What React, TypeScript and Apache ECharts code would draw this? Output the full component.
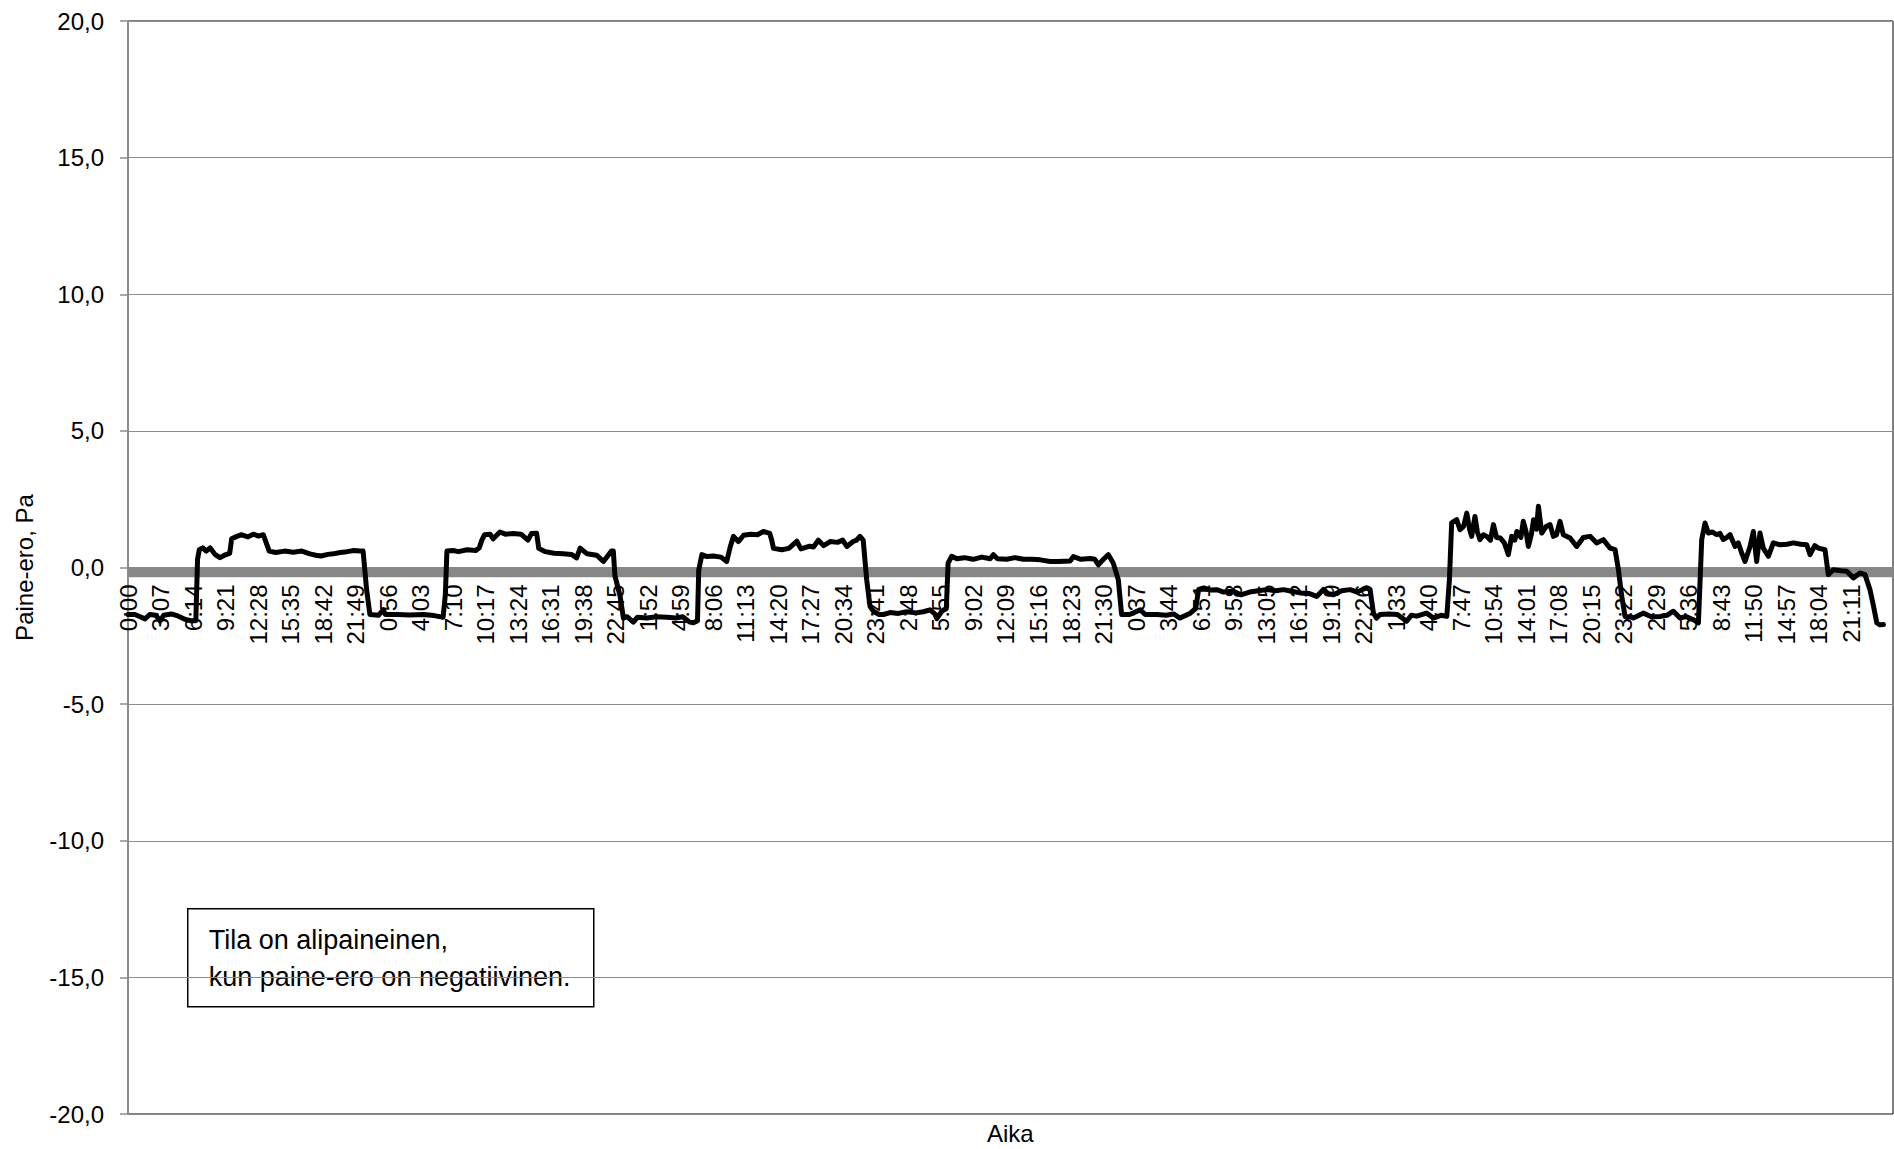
import React, { useEffect, useRef } from "react";
import * as echarts from "echarts";

// [minute from start of measurement, pressure difference Pa]
const day1: [number, number][] = [
  [0, -1.72], [40, -1.72], [70, -1.8], [98, -1.88], [125, -1.72], [160, -1.75], [184, -1.95], [205, -1.75],
  [250, -1.7], [290, -1.78], [330, -1.9], [360, -1.95], [390, -1.95], [400, 0.3], [410, 0.65], [430, 0.72],
  [450, 0.6], [472, 0.72], [500, 0.48], [529, 0.36], [555, 0.45], [585, 0.52], [596, 1.05], [620, 1.12],
  [650, 1.2], [690, 1.12], [720, 1.22], [750, 1.15], [778, 1.2], [795, 0.9], [812, 0.6], [850, 0.55],
  [900, 0.6], [950, 0.56], [1000, 0.6], [1046, 0.5], [1080, 0.45], [1110, 0.42], [1150, 0.48], [1180, 0.5],
  [1220, 0.55], [1260, 0.58], [1300, 0.62], [1334, 0.6], [1352, 0.6], [1372, -0.8], [1391, -1.72],
];
const day2: [number, number][] = [
  [1440, -1.75], [1468, -1.55], [1480, -1.72], [1550, -1.72], [1620, -1.74], [1700, -1.72], [1760, -1.76],
  [1812, -1.82], [1825, -1.0], [1834, 0.6], [1870, 0.62], [1900, 0.58], [1950, 0.65], [2000, 0.62],
  [2020, 0.72], [2035, 1.0], [2050, 1.2], [2082, 1.22], [2100, 1.05], [2139, 1.3], [2170, 1.22], [2216, 1.24],
  [2260, 1.22], [2300, 1.0], [2320, 1.24], [2350, 1.25], [2362, 0.7], [2400, 0.58], [2450, 0.52], [2503, 0.5],
  [2550, 0.48], [2580, 0.35], [2600, 0.71], [2640, 0.5], [2695, 0.45], [2734, 0.22], [2780, 0.6], [2791, 0.6],
  [2800, -0.3], [2830, -1.05], [2849, -1.85],
];
const day3: [number, number][] = [
  [2870, -1.8], [2906, -2.0], [2930, -1.82], [2983, -1.85], [3040, -1.8], [3100, -1.82], [3150, -1.85],
  [3190, -1.8], [3230, -2.0], [3252, -2.02], [3275, -1.95], [3282, -0.1], [3300, 0.47], [3330, 0.4],
  [3367, 0.42], [3410, 0.38], [3443, 0.22], [3463, 0.75], [3482, 1.14], [3510, 0.95], [3540, 1.18],
  [3580, 1.22], [3620, 1.2], [3654, 1.32], [3690, 1.25], [3702, 1.0], [3712, 0.7], [3760, 0.65], [3800, 0.7],
  [3846, 0.96], [3870, 0.68], [3920, 0.78], [3942, 0.75], [3970, 1.0], [4000, 0.8], [4038, 0.95], [4080, 0.92],
  [4110, 1.0], [4134, 0.77], [4170, 0.95], [4190, 1.0], [4209, 1.14], [4228, 1.0], [4248, -0.45], [4267, -1.42],
  [4286, -1.6], [4320, -1.72],
];
const day4: [number, number][] = [
  [4344, -1.72], [4382, -1.65], [4430, -1.68], [4478, -1.62], [4530, -1.66], [4574, -1.62], [4612, -1.55],
  [4640, -1.7], [4651, -1.87], [4680, -1.6], [4706, -1.5], [4716, 0.16], [4737, 0.41], [4766, 0.32],
  [4810, 0.36], [4860, 0.3], [4910, 0.38], [4958, 0.32], [4977, 0.47], [5000, 0.32], [5054, 0.3], [5100, 0.36],
  [5150, 0.3], [5200, 0.3], [5246, 0.28], [5303, 0.22], [5350, 0.22], [5418, 0.24], [5437, 0.4], [5480, 0.3],
  [5533, 0.33], [5560, 0.3], [5580, 0.1], [5610, 0.3], [5638, 0.47], [5666, 0.16], [5695, -0.45], [5714, -1.72],
];
const day5: [number, number][] = [
  [5760, -1.72], [5821, -1.55], [5850, -1.72], [5917, -1.72], [5970, -1.75], [6013, -1.7], [6050, -1.85],
  [6109, -1.67], [6140, -1.5], [6157, -0.8], [6186, -0.75], [6224, -0.82], [6261, -0.81], [6300, -0.9],
  [6357, -0.87], [6400, -1.0], [6450, -0.9], [6500, -0.85], [6548, -0.81], [6600, -0.85], [6644, -0.81],
  [6700, -0.88], [6740, -0.93], [6790, -0.95], [6836, -1.06], [6875, -0.8], [6900, -0.95], [6932, -1.0],
  [6980, -0.85], [7028, -0.81], [7070, -0.9], [7100, -0.8], [7123, -0.75], [7143, -0.81], [7162, -1.67],
  [7180, -1.85],
];
const day6: [number, number][] = [
  [7200, -1.72], [7250, -1.7], [7300, -1.72], [7353, -1.97], [7380, -1.75], [7411, -1.78], [7468, -1.67],
  [7507, -1.85], [7550, -1.75], [7584, -1.79], [7599, -0.45], [7612, 1.63], [7641, 1.75], [7660, 1.38],
  [7680, 1.5], [7699, 1.99], [7715, 1.4], [7727, 1.14], [7746, 1.87], [7760, 1.3], [7775, 1.02], [7795, 1.2],
  [7813, 1.14], [7835, 1.0], [7852, 1.57], [7870, 1.1], [7891, 1.08], [7915, 0.9], [7938, 0.47], [7957, 1.14],
  [7975, 1.0], [7987, 1.32], [8010, 1.1], [8024, 1.69], [8040, 1.3], [8053, 0.77], [8070, 1.2], [8083, 1.75],
  [8100, 1.4], [8111, 2.24], [8130, 1.26], [8155, 1.5], [8178, 1.57], [8197, 1.14], [8215, 1.2], [8235, 1.69],
  [8254, 1.2], [8293, 1.08], [8331, 0.77], [8369, 1.1], [8408, 1.14], [8446, 0.9], [8484, 1.02], [8523, 0.71],
  [8552, 0.65], [8571, -0.08], [8590, -1.05], [8609, -1.79],
];
const day7: [number, number][] = [
  [8640, -1.8], [8657, -1.85], [8690, -1.75], [8714, -1.67], [8760, -1.8], [8810, -1.79], [8850, -1.75],
  [8887, -1.6], [8925, -1.85], [8960, -1.8], [9002, -1.91], [9031, -2.03], [9050, 1.02], [9069, 1.63],
  [9088, 1.26], [9110, 1.3], [9136, 1.2], [9155, 1.25], [9174, 1.02], [9195, 1.1], [9213, 1.2], [9242, 0.77],
  [9260, 0.9], [9280, 0.53], [9299, 0.22], [9328, 0.77], [9347, 1.32], [9366, 0.22], [9385, 1.26], [9404, 0.71],
  [9433, 0.41], [9462, 0.9], [9500, 0.83], [9540, 0.85], [9577, 0.9], [9620, 0.85], [9654, 0.83], [9673, 0.47],
  [9700, 0.8], [9721, 0.71], [9759, 0.65], [9778, -0.26], [9807, -0.08], [9850, -0.12], [9884, -0.14],
  [9922, -0.38], [9961, -0.2], [9989, -0.26], [10018, -0.82], [10038, -1.42], [10057, -2.03], [10075, -2.1],
  [10095, -2.09],
];

const X_MAX = 10150; // minutes shown on the axis
const X_LAST_LABEL = 9911; // last time label (21:11 on day 7)
const X_LABEL_STEP = 187; // minutes between time labels
const Y_MIN = -20;
const Y_MAX = 20;
const Y_STEP = 5;
const REFERENCE_LEVEL = -0.17; // thick grey reference band
const Y_TITLE = "Paine-ero, Pa";
const X_TITLE = "Aika";
const NOTE_LINES = ["Tila on alipaineinen,", "kun paine-ero on negatiivinen."];

const FONT = "'Liberation Sans', Arial, sans-serif";

const GRID_TOP = 21;
const GRID_BOTTOM = 35;
const CHART_H = 1149;

function fmtTime(v: number): string {
  if (v > X_LAST_LABEL) return "";
  const m = ((Math.round(v) % 1440) + 1440) % 1440;
  return `${Math.floor(m / 60)}:${String(m % 60).padStart(2, "0")}`;
}

export default function App() {
  const ref = useRef<HTMLDivElement>(null);
  useEffect(() => {
    document.body.style.margin = "0";
    if (!ref.current) return;
    const chart = echarts.init(ref.current, undefined, { renderer: "svg" });
    const data = [...day1, ...day2, ...day3, ...day4, ...day5, ...day6, ...day7];
    // distance from the plot bottom up to the zero level, so the time labels hang from y = 0
    const plotH = CHART_H - GRID_TOP - GRID_BOTTOM;
    const zeroOffset = -plotH * ((0 - Y_MIN) / (Y_MAX - Y_MIN));
    chart.setOption({
      animation: false,
      backgroundColor: "#fff",
      grid: {
        left: 128,
        right: 1,
        top: GRID_TOP,
        bottom: GRID_BOTTOM,
        containLabel: false,
        show: true,
        borderColor: "#000",
        borderWidth: 1,
        backgroundColor: "transparent",
      },
      xAxis: {
        type: "value",
        position: "bottom",
        offset: zeroOffset,
        min: 0,
        max: X_MAX,
        interval: X_LABEL_STEP,
        axisLine: { show: false, onZero: false },
        axisTick: { show: false },
        splitLine: { show: false },
        axisLabel: {
          rotate: 90,
          margin: 17,
          fontSize: 24,
          fontFamily: FONT,
          color: "#000",
          showMaxLabel: false,
          formatter: (v: number) => fmtTime(v),
        },
      },
      yAxis: {
        type: "value",
        min: Y_MIN,
        max: Y_MAX,
        interval: Y_STEP,
        name: Y_TITLE,
        nameLocation: "middle",
        nameRotate: 90,
        nameGap: 92,
        nameTextStyle: { fontSize: 24, fontFamily: FONT, color: "#000" },
        axisLine: { show: true, onZero: false, lineStyle: { color: "#8c8c8c", width: 2 } },
        axisTick: { show: true, inside: false, length: 8, lineStyle: { color: "#8c8c8c", width: 1.5 } },
        splitLine: { show: true, lineStyle: { color: "#8c8c8c", width: 1.2 } },
        axisLabel: {
          margin: 24,
          fontSize: 24,
          fontFamily: FONT,
          color: "#000",
          formatter: (v: number) => v.toFixed(1).replace(".", ","),
        },
      },
      graphic: [
        {
          type: "text",
          left: 1011 - 24,
          top: 1121,
          style: { text: X_TITLE, fontSize: 24, fontFamily: FONT, fill: "#000" },
        },
        {
          type: "group",
          left: 187,
          top: 908,
          children: [
            {
              type: "rect",
              shape: { x: 0, y: 0, width: 406, height: 98 },
              style: { fill: "#fff", stroke: "#000", lineWidth: 1.5 },
            },
            {
              type: "text",
              x: 21,
              y: 13,
              style: {
                text: NOTE_LINES.join("\n"),
                fontSize: 27,
                lineHeight: 37,
                fontFamily: FONT,
                fill: "#000",
              },
            },
          ],
        },
      ],
      series: [
        {
          type: "line",
          z: 1,
          silent: true,
          symbol: "none",
          data: [[0, REFERENCE_LEVEL], [X_MAX, REFERENCE_LEVEL]],
          lineStyle: { color: "#878787", width: 10, cap: "butt" },
        },
        {
          type: "line",
          z: 3,
          symbol: "none",
          data,
          lineStyle: { color: "#000", width: 5, join: "round", cap: "round" },
        },
      ],
    });
    return () => chart.dispose();
  }, []);
  return <div ref={ref} style={{ width: 1894, height: CHART_H }} />;
}
